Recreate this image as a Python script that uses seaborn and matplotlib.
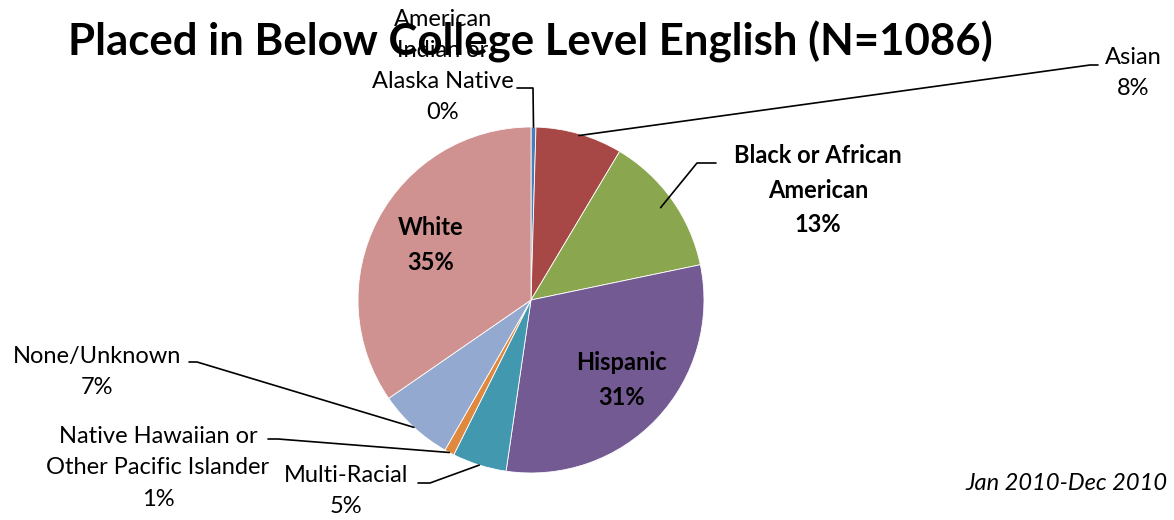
import seaborn as sns
import matplotlib.pyplot as plt
import numpy as np

# counts per group (N=1086)
groups = ["American\nIndian or\nAlaska Native", "Asian", "Black or African\nAmerican",
          "Hispanic", "Multi-Racial", "Native Hawaiian or\nOther Pacific Islander",
          "None/Unknown", "White"]
counts = [5, 88, 143, 332, 55, 10, 77, 376]
colors = ["#4a7ebb", "#a84846", "#8aa64e", "#735a92", "#4198af", "#e0883e", "#93a9cf", "#d09290"]
bold_groups = ["Black or African\nAmerican", "Hispanic", "White"]

sns.set_style("white")
plt.rcParams['font.family'] = ['Lato', 'DejaVu Sans']
plt.rcParams['text.color'] = 'black'

fig = plt.figure(figsize=(11.74, 5.2), dpi=100)
# pie centre at (531, 300) px, radius 173 px
cx, cy, r = 531, 300, 173
ax = fig.add_axes([(cx - r) / 1174, (520 - cy - r) / 520, 2 * r / 1174, 2 * r / 520])
wedges, _ = ax.pie(counts, colors=colors, startangle=90, counterclock=False,
                   wedgeprops=dict(linewidth=0.6, edgecolor="white"))
ax.set_xlim(-1, 1)
ax.set_ylim(-1, 1)
ax.axis("off")

total = sum(counts)
pcts = ["{:.0f}%".format(c / total * 100) for c in counts]


def px(x, y):
    return (x - cx) / r, (cy - y) / r


# label layout: text centre (px), elbow and end of leader (px), anchor radius
layout = {
    0: dict(text=(443, 66), pts=[(533, 88), (517, 88)], ar=1.0),
    1: dict(text=(1133, 73), pts=[(1090, 65), (1098, 65)], ar=0.99),
    2: dict(text=(818, 190), pts=[(697, 163), (716, 163)], ar=0.92),
    3: dict(text=(622, 380), pts=None, ar=None),
    4: dict(text=(346, 491), pts=[(430, 483), (418, 483)], ar=1.0),
    5: dict(text=(158, 468), pts=[(278, 439), (268, 439)], ar=1.0),
    6: dict(text=(97, 372), pts=[(197, 362), (189, 362)], ar=1.0),
    7: dict(text=(431, 245), pts=None, ar=None),
}

for i, w in enumerate(wedges):
    lay = layout[i]
    weight = "bold" if groups[i] in bold_groups else "normal"
    tx, ty = px(*lay["text"])
    ax.text(tx, ty, groups[i] + "\n" + pcts[i], ha="center", va="center",
            fontsize=17, fontweight=weight, linespacing=1.6, clip_on=False)
    if lay["pts"] is not None:
        mid = np.deg2rad((w.theta1 + w.theta2) / 2)
        ax_x, ax_y = lay["ar"] * np.cos(mid), lay["ar"] * np.sin(mid)
        xs = [ax_x] + [px(*p)[0] for p in lay["pts"]]
        ys = [ax_y] + [px(*p)[1] for p in lay["pts"]]
        ax.plot(xs, ys, color="black", lw=1.2, clip_on=False)

fig.text(530 / 1174, 1 - 42 / 520, "Placed in Below College Level English (N=1086)",
         ha="center", va="center", fontsize=31.5, fontweight="bold")
fig.text(1168 / 1174, 1 - 483 / 520, "Jan 2010-Dec 2010", ha="right", va="center",
         fontsize=17, fontstyle="italic")

fig.savefig("out.png", dpi=100)
